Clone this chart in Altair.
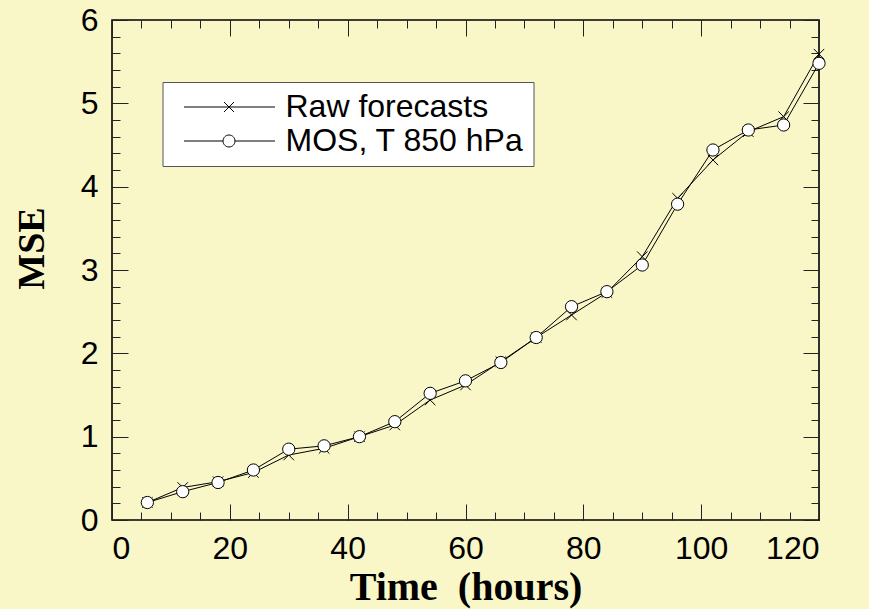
import altair as alt
import pandas as pd

# ---- data ----
hours = [6, 12, 18, 24, 30, 36, 42, 48, 54, 60, 66, 72, 78, 84, 90, 96, 102, 108, 114, 120]
raw_mse = [0.21, 0.39, 0.46, 0.57, 0.78, 0.86, 1.00, 1.14, 1.44, 1.62,
           1.90, 2.19, 2.46, 2.73, 3.16, 3.86, 4.32, 4.66, 4.84, 5.59]
mos_mse = [0.21, 0.34, 0.45, 0.60, 0.85, 0.89, 1.00, 1.18, 1.52, 1.67,
           1.89, 2.19, 2.56, 2.74, 3.06, 3.79, 4.44, 4.68, 4.74, 5.48]
series_names = ["Raw forecasts", "MOS, T 850 hPa"]

x_major = [0, 20, 40, 60, 80, 100, 120]
x_minor = [0, 5, 10, 15, 20, 25, 30, 35, 40, 45, 50, 55, 60, 65, 70, 75, 80,
           85, 90, 95, 100, 105, 110, 115, 120]
y_major = [0, 1, 2, 3, 4, 5, 6]
y_minor = [0, 0.2, 0.4, 0.6, 0.8, 1, 1.2, 1.4, 1.6, 1.8, 2, 2.2, 2.4, 2.6, 2.8,
           3, 3.2, 3.4, 3.6, 3.8, 4, 4.2, 4.4, 4.6, 4.8, 5, 5.2, 5.4, 5.6, 5.8, 6]

rows = []
for name, vals in zip(series_names, [raw_mse, mos_mse]):
    for h, v in zip(hours, vals):
        rows.append({"hours": h, "mse": v, "series": name})
df = pd.DataFrame(rows)

W, H = 707, 500
BG = "#F9F7C7"
TICK = "#222222"

# legend symbols: line with a marker in the middle (unit = sqrt(size)/2 px)
raw_sym = "M-0.233,0H5.833M2.434,-0.333L3.1,0.333M2.434,0.333L3.1,-0.333"
mos_sym = ("M-0.233,0H2.367M3.167,0H5.833"
           "M3.167,0A0.4,0.4,0,1,1,2.367,0A0.4,0.4,0,1,1,3.167,0Z")
cross_shape = "M-1,-1L1,1M-1,1L1,-1"

xs = alt.Scale(domain=[0, 120], nice=False, zero=False)
ys = alt.Scale(domain=[0, 6], nice=False, zero=False)


def tick_axis(orient, values, size, offset):
    return alt.Axis(orient=orient, values=values, tickSize=size, ticks=True,
                    tickColor=TICK, tickWidth=1, labels=False, domain=False,
                    grid=False, title=None, offset=offset)


x_main = alt.Axis(orient="bottom", values=x_major, ticks=False, tickSize=0,
                  domain=False, grid=False, labelFont="Liberation Sans",
                  labelFontSize=32, labelColor="black", labelPadding=13,
                  title="Time\u00a0 (hours)", titleFont="Liberation Serif",
                  titleFontSize=40, titleFontWeight="bold", titleColor="black",
                  titleBaseline="alphabetic", titleY=79)
y_main = alt.Axis(orient="left", values=y_major, ticks=False, tickSize=0,
                  domain=False, grid=False, labelFont="Liberation Sans",
                  labelFontSize=32, labelColor="black", labelPadding=14,
                  title="MSE", titleFont="Liberation Serif", titleFontSize=38,
                  titleFontWeight="bold", titleColor="black", titleAngle=270,
                  titleBaseline="alphabetic", titleAlign="center",
                  titleX=-69, titleY=228)

base = alt.Chart(df)
raw = base.transform_filter(alt.datum.series == series_names[0])
mos = base.transform_filter(alt.datum.series == series_names[1])

l1 = raw.mark_line(color="black", strokeWidth=1).encode(
    x=alt.X("hours:Q", scale=xs, axis=x_main),
    y=alt.Y("mse:Q", scale=ys, axis=y_main),
)
l2 = raw.mark_point(shape=cross_shape, size=110, filled=False, stroke="black",
                    strokeWidth=1, opacity=1).encode(
    x=alt.X("hours:Q", scale=xs, axis=tick_axis("top", x_major, 16, -H)),
    y=alt.Y("mse:Q", scale=ys, axis=tick_axis("right", y_major, 16, -W)),
)
l3 = mos.mark_line(color="black", strokeWidth=1).encode(
    x=alt.X("hours:Q", scale=xs, axis=tick_axis("top", x_minor, 8, -H)),
    y=alt.Y("mse:Q", scale=ys, axis=tick_axis("right", y_minor, 8, -W)),
)
l4 = mos.mark_point(shape="circle", size=150, fill="white", stroke="black",
                    strokeWidth=1, opacity=1).encode(
    x=alt.X("hours:Q", scale=xs, axis=tick_axis("bottom", x_major, 16, -H)),
    y=alt.Y("mse:Q", scale=ys, axis=tick_axis("left", y_major, 16, -W)),
)
l5 = base.transform_filter("false").mark_point(
    fill="white", stroke="black", strokeWidth=1, opacity=1, size=900
).encode(
    x=alt.X("hours:Q", scale=xs, axis=tick_axis("bottom", x_minor, 8, -H)),
    y=alt.Y("mse:Q", scale=ys, axis=tick_axis("left", y_minor, 8, -W)),
    shape=alt.Shape(
        "series:N",
        scale=alt.Scale(domain=series_names, range=[raw_sym, mos_sym]),
        legend=alt.Legend(
            title=None, orient="none", legendX=50.5, legendY=62,
            padding=9, fillColor="white", strokeColor="#555555",
            labelFont="Liberation Sans", labelFontSize=32, labelColor="black",
            labelOffset=82, labelLimit=500, symbolSize=900,
            symbolStrokeWidth=1, symbolOpacity=1, rowPadding=2,
        ),
    ),
)

chart = (
    alt.layer(l1, l2, l3, l4, l5)
    .resolve_axis(x="independent", y="independent")
    .properties(width=W, height=H, background=BG,
                autosize=alt.AutoSizeParams(type="none"),
                padding={"left": 112, "top": 20, "right": 50, "bottom": 89})
    .configure_view(stroke="black", strokeWidth=1.6)
)

chart.save("out.html", embed_options={"renderer": "svg", "actions": False})
